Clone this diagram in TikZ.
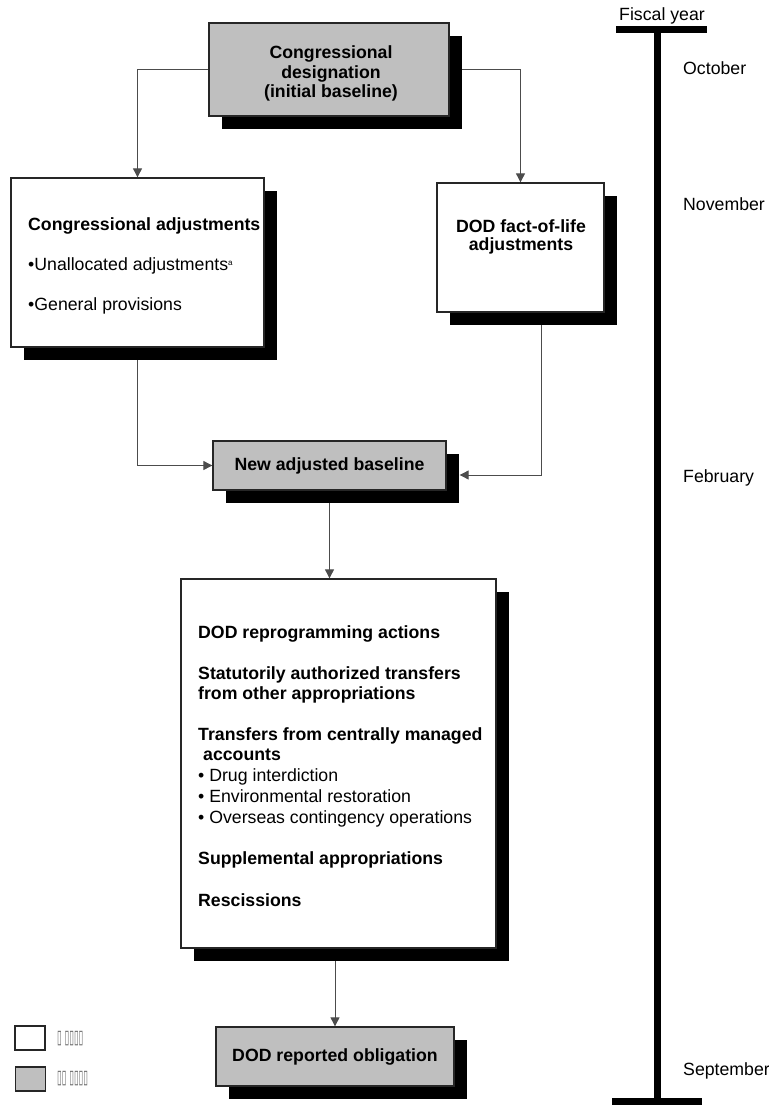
\documentclass[tikz,border=0pt]{standalone}
\usepackage{fontspec}
\setmainfont{Liberation Sans}
\newfontfamily\glyphfont{DejaVu Sans}
\usetikzlibrary{arrows.meta,shadows,backgrounds}

\tikzset{
  box/.style={draw=black!85, line width=1.3pt, fill=white, inner sep=0pt,
    drop shadow={shadow xshift=13pt, shadow yshift=-13pt, fill=black, opacity=1}},
  graybox/.style={box, fill=black!25},
  link/.style={draw=black!70, line width=0.9pt, -{Triangle[width=9pt,length=9pt]}},
  bold/.style={font=\fontsize{17.7}{19.5}\selectfont\bfseries, inner sep=0pt},
  plain/.style={font=\fontsize{17.7}{19.5}\selectfont, inner sep=0pt},
  keybox/.style={draw=black!85, line width=1.5pt, minimum width=30pt, minimum height=24pt, inner sep=0pt},
  keytext/.style={font=\glyphfont\fontsize{19}{19}\selectfont, text=black!60, inner sep=0pt, anchor=west}
}

\begin{document}
\begin{tikzpicture}[x=1pt,y=-1pt]
\useasboundingbox (0,0) rectangle (768,1105);

% boxes
\node[graybox, minimum width=240pt, minimum height=93pt] (desig) at (329,69.5) {};
\node[bold, anchor=base] (desiga) at (331,59) {Congressional};
\node[bold, anchor=base] (desigb) at (331,78.5) {designation};
\node[bold, anchor=base] (desigc) at (331,98) {(initial baseline)};

\node[box, minimum width=253pt, minimum height=169pt] (cadj) at (137.5,262.5) {};
\node[bold, anchor=base west] (cadjhead) at (28,230) {Congressional adjustments};
\node[plain, anchor=base west] (unalloc) at (28,270) {•Unallocated adjustments\raisebox{5pt}{\fontsize{8}{8}\selectfont a}};
\node[plain, anchor=base west] (genprov) at (28,310) {•General provisions};

\node[box, minimum width=167pt, minimum height=129pt] (life) at (520.5,247.5) {};
\node[bold, anchor=base] (lifea) at (521,232) {DOD fact-of-life};
\node[bold, anchor=base] (lifeb) at (521,250) {adjustments};

\node[graybox, minimum width=233pt, minimum height=49pt, bold] (base) at (329.5,465.5) {New adjusted baseline};

\node[box, minimum width=315pt, minimum height=369pt] (actions) at (338.5,763.5) {};
\node[bold, anchor=base west] (reprog) at (198,638) {DOD reprogramming actions};
\node[bold, anchor=base west] (statut) at (198,679) {Statutorily authorized transfers};
\node[bold, anchor=base west] (statutb) at (198,699) {from other appropriations};
\node[bold, anchor=base west] (central) at (198,740) {Transfers from centrally managed};
\node[bold, anchor=base west] (centralb) at (198,760) {\hspace{5pt}accounts};
\node[plain, anchor=base west] (drug) at (198,781) {• Drug interdiction};
\node[plain, anchor=base west] (envir) at (198,802) {• Environmental restoration};
\node[plain, anchor=base west] (overseas) at (198,823) {• Overseas contingency operations};
\node[bold, anchor=base west] (suppl) at (198,864) {Supplemental appropriations};
\node[bold, anchor=base west] (resc) at (198,906) {Rescissions};

\node[graybox, minimum width=238pt, minimum height=59pt, bold] (report) at (335,1056.5) {DOD reported obligation};

% connectors
\begin{scope}[on background layer]
\draw[link] (desig.west) -| (cadj.north);
\draw[link] (desig.east) -| (life.north);
\draw[link] (cadj.south) |- (base.west);
\draw[link] ([xshift=20.5pt]life.south) |- ([xshift=13pt,yshift=-9.5pt]base.east);
\draw[link] (base.south) -- (base.south |- actions.north);
\draw[link] (report.north |- actions.south) -- (report.north);
\end{scope}

% legend
\node[keybox] (keywhite) at (30,1038) {};
\node[keybox, fill=black!25] (keygray) at (30.5,1079) {};
\node[keytext] (keywhitetext) at (57,1039) {\scalebox{0.45}[1]{▯ ▯▯▯▯}};
\node[keytext] (keygraytext) at (57,1079) {\scalebox{0.45}[1]{▯▯ ▯▯▯▯}};

% fiscal year line
\draw[line width=7pt] (616,30) -- (707,30);
\draw[line width=7pt] (657,30) -- (657,1101);
\draw[line width=7pt] (612,1101) -- (702,1101);
\node[plain, anchor=base] (fiscal) at (662,21) {Fiscal year};
\node[plain, anchor=base west] (oct) at (683,75) {October};
\node[plain, anchor=base west] (nov) at (683,210) {November};
\node[plain, anchor=base west] (feb) at (683,482) {February};
\node[plain, anchor=base west] (sep) at (683,1075) {September};
\end{tikzpicture}
\end{document}
